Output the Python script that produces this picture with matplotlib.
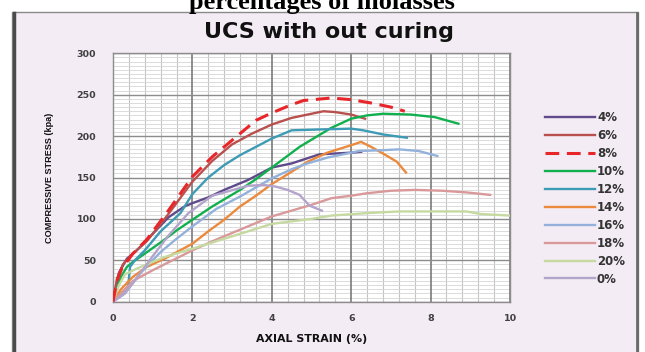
import matplotlib
matplotlib.use("Agg")
import matplotlib.pyplot as plt
from matplotlib.patches import Rectangle
from matplotlib.lines import Line2D
from matplotlib.ticker import MultipleLocator

# ---------------- data ----------------
labels = ["4%", "6%", "8%", "10%", "12%", "14%", "16%", "18%", "20%", "0%"]

x_4 = [0, 0.15, 0.35, 0.6, 1.0, 1.4, 1.8, 2.0, 2.4, 2.8, 3.4, 4.0, 4.5, 5.2, 5.6, 6.0, 6.25]
y_4 = [0, 35, 52, 62, 82, 102, 115, 119, 126, 135, 147, 162, 167, 178, 179, 180, 181]

x_6 = [0, 0.1, 0.25, 0.5, 0.85, 1.35, 2.0, 2.5, 3.0, 3.5, 4.0, 4.5, 5.0, 5.3, 5.6, 6.0, 6.35]
y_6 = [0, 28, 45, 58, 73, 103, 145, 170, 190, 203, 214, 222, 227, 230, 229, 226, 221]

x_8 = [0, 0.1, 0.22, 0.5, 0.85, 1.35, 2.0, 2.5, 3.0, 3.6, 4.0, 4.5, 4.8, 5.5, 6.0, 6.5, 7.0, 7.35]
y_8 = [0, 25, 40, 58, 75, 107, 151, 175, 195, 219, 228, 238, 243, 246, 244, 240, 235, 230]

x_10 = [0, 0.1, 0.2, 0.35, 0.5, 0.8, 1.27, 1.6, 2.0, 2.5, 3.2, 3.6, 4.0, 4.7, 5.5, 6.0, 6.4, 6.8, 7.5, 8.1, 8.7]
y_10 = [0, 15, 30, 42, 48, 58, 74, 86, 99, 115, 135, 148, 162, 187, 210, 221, 225, 227, 226, 223, 215]

x_12 = [0, 0.2, 0.38, 0.43, 0.55, 0.8, 1.2, 1.7, 2.0, 2.4, 2.8, 3.2, 3.6, 4.0, 4.5, 5.2, 6.0, 6.3, 6.8, 7.4]
y_12 = [0, 10, 18, 42, 50, 62, 85, 107, 130, 150, 165, 177, 187, 197, 207, 208, 209, 207, 202, 198]

x_14 = [0, 0.2, 0.5, 0.85, 1.3, 2.0, 2.4, 2.8, 3.2, 3.6, 4.0, 4.5, 4.9, 5.4, 6.0, 6.25, 6.5, 6.8, 7.15, 7.38]
y_14 = [0, 15, 30, 42, 52, 70, 85, 99, 115, 128, 142, 157, 169, 180, 189, 193, 187, 179, 169, 156]

x_16 = [0, 0.3, 0.7, 1.2, 1.6, 2.0, 2.6, 3.2, 3.6, 4.0, 4.5, 4.9, 5.4, 6.2, 6.8, 7.2, 7.7, 8.17]
y_16 = [0, 10, 35, 60, 76, 91, 112, 127, 138, 149, 160, 167, 174, 182, 183, 184, 182, 176]

x_18 = [0, 0.2, 0.5, 1.0, 1.5, 2.0, 2.6, 3.2, 3.6, 4.0, 4.5, 5.0, 5.5, 6.0, 6.4, 7.0, 7.6, 8.3, 8.9, 9.5]
y_18 = [0, 10, 25, 38, 50, 62, 75, 87, 95, 103, 110, 117, 125, 128, 131, 134, 135, 134, 132, 129]

x_20 = [0, 0.15, 0.3, 0.6, 1.0, 1.3, 2.0, 2.6, 3.2, 3.6, 4.0, 4.5, 5.0, 5.5, 6.4, 7.2, 8.0, 8.9, 9.25, 10.0]
y_20 = [0, 20, 33, 40, 48, 54, 64, 73, 82, 88, 94, 97, 100, 104, 107, 109, 109, 109, 106, 104]

x_0 = [0, 0.3, 0.7, 1.0, 1.4, 1.9, 2.5, 2.8, 3.4, 3.8, 4.1, 4.4, 4.7, 4.95, 5.26]
y_0 = [0, 10, 35, 55, 80, 107, 128, 132, 140, 141, 139, 135, 129, 116, 110]

xs = [x_4, x_6, x_8, x_10, x_12, x_14, x_16, x_18, x_20, x_0]
ys = [y_4, y_6, y_8, y_10, y_12, y_14, y_16, y_18, y_20, y_0]
colors = ["#5F4B8B", "#B8504E", "#E8262A", "#11B04F", "#3E9BB5", "#EB8A3C",
          "#93B1DA", "#D9999A", "#C5D9A0", "#B3A4CB"]

# ---------------- figure ----------------
W, H = 645, 352
fig = plt.figure(figsize=(W / 100, H / 100), dpi=100)
fig.patch.set_facecolor("white")

# chart box
fig.patches.append(Rectangle((12 / W, -0.01), 626 / W, (H - 12) / H + 0.01,
                             transform=fig.transFigure, facecolor="#F4ECF4",
                             edgecolor="#8A8A8A", linewidth=1.0, zorder=-5))
fig.lines.append(Line2D([14 / W, 14 / W], [0, (H - 13) / H], transform=fig.transFigure,
                        color="#4A4A4A", linewidth=2.5, zorder=1))
fig.lines.append(Line2D([637 / W, 637 / W], [0, (H - 13) / H], transform=fig.transFigure,
                        color="#6A6A6A", linewidth=2.0, zorder=1))

# cut-off caption at top
fig.text(322 / W, 1 - 9 / H, "percentages of molasses", ha="center", va="baseline",
         fontsize=19, fontweight="bold", family="Liberation Serif", color="black")

ax = fig.add_axes([113 / W, 1 - 301.7 / H, (510 - 113) / W, (301.7 - 53.3) / H])
ax.set_facecolor("white")
ax.set_xlim(0, 10)
ax.set_ylim(0, 300)
ax.xaxis.set_major_locator(MultipleLocator(2))
ax.xaxis.set_minor_locator(MultipleLocator(0.4))
ax.yaxis.set_major_locator(MultipleLocator(50))
ax.yaxis.set_minor_locator(MultipleLocator(5))
ax.grid(which="minor", axis="x", color="#C4C4C4", linewidth=0.8)
ax.grid(which="minor", axis="y", color="#D6D6D6", linewidth=0.6)
ax.set_axisbelow(True)
# solid major grid lines drawn above the minor ones
for xv in ax.get_xticks():
    ax.axvline(xv, color="#7A7A7A", linewidth=1.2, zorder=1)
for yv in ax.get_yticks():
    ax.axhline(yv, color="#8C8C8C", linewidth=1.0, zorder=1)
ax.set_xlim(0, 10)
ax.set_ylim(0, 300)
for s in ax.spines.values():
    s.set_color("#8C8C8C")
    s.set_linewidth(1.0)
ax.tick_params(which="both", length=0)
ax.tick_params(axis="x", pad=9)
ax.tick_params(axis="y", pad=12)
for lab in ax.get_xticklabels() + ax.get_yticklabels():
    lab.set_fontsize(6.8)
    lab.set_fontweight("bold")
    lab.set_color("#404040")

for i, (xv, yv, c, lb) in enumerate(zip(xs, ys, colors, labels)):
    if lb == "8%":
        ax.plot(xv, yv, color=c, linewidth=2.2, linestyle=(0, (4.5, 2.5)), label=lb, zorder=3 + 10)
    else:
        ax.plot(xv, yv, color=c, linewidth=1.7, label=lb, zorder=3 + i)

fig.text(329 / W, 1 - 32 / H, "UCS with out curing", ha="center", va="center",
         fontsize=16, fontweight="bold", color="#111111")
ax.set_xlabel("AXIAL STRAIN (%)", fontsize=7.9, fontweight="bold", color="#111111", labelpad=8)
ax.set_ylabel("COMPRESSIVE STRESS (kpa)", fontsize=6.6, fontweight="bold", color="#111111",
              family="Liberation Sans", labelpad=16)

handles, lbls = ax.get_legend_handles_labels()
leg = fig.legend(handles, lbls, loc="upper left", bbox_to_anchor=(545 / W, 1 - 111 / H),
                 frameon=False, fontsize=8.5, handlelength=4.2, handletextpad=0.2,
                 labelspacing=0.42, borderaxespad=0, borderpad=0)
for t in leg.get_texts():
    t.set_fontweight("bold")
    t.set_color("#333333")

fig.savefig("out.png", dpi=100, facecolor=fig.get_facecolor())
